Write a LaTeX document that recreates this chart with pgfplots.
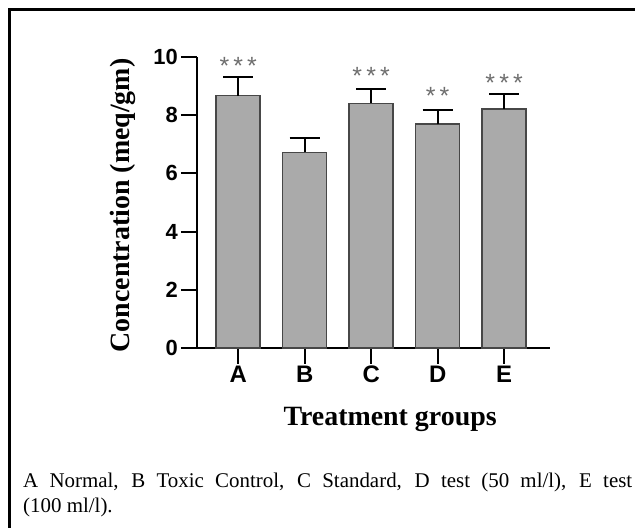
\documentclass[border=0pt]{standalone}
\usepackage{pgfplots}
\pgfplotsset{compat=1.18}
\usepackage{fontspec}
\setmainfont{Liberation Serif}
\setsansfont{Liberation Sans}
\definecolor{barfill}{HTML}{AAAAAA}
\definecolor{baredge}{HTML}{474747}
\definecolor{stargray}{HTML}{6E6E6E}
\begin{document}
\begin{tikzpicture}
\useasboundingbox (0,0) rectangle (635bp,528bp);
\draw[line width=3bp, black] (9.5bp,0) -- (9.5bp,518.5bp) -- (635bp,518.5bp);
\begin{axis}[
  at={(197bp,180bp)}, anchor=south west,
  scale only axis, width=353bp, height=291bp,
  xmin=-0.62, xmax=4.69, ymin=0, ymax=10,
  axis x line=bottom, axis y line=left,
  axis line style={line width=2.5bp, black, -},
  xtick=data, xticklabels={A,B,C,D,E},
  ytick={0,2,4,6,8,10},
  tick align=outside, major tick length=16bp,
  tick style={line width=2bp, black},
  /pgf/number format/assume math mode=true,
  yticklabel style={font=\fontsize{22}{22}\selectfont\sffamily\bfseries, inner sep=3bp},
  xticklabel style={font=\fontsize{24}{24}\selectfont\sffamily\bfseries, inner sep=2bp},
  ylabel={\textbf{Concentration (meq/gm)}},
  xlabel={\textbf{Treatment groups}},
  every axis y label/.style={at={(axis description cs:-0.21,0.49)}, rotate=90, anchor=center, font=\fontsize{28}{28}\selectfont},
  every axis x label/.style={at={(axis description cs:0.547,-0.245)}, anchor=center, font=\fontsize{28}{28}\selectfont},
  clip=false,
]
\addplot[ybar, bar width=44bp, bar shift=0pt, fill=barfill, draw=baredge, line width=1.5bp,
  error bars/.cd, y dir=plus, y explicit,
  error bar style={line width=2bp, black},
  error mark options={rotate=90, mark size=15bp, line width=2bp, black}]
  table[x=x, y=y, y error=e] {
x y e
0 8.67 0.63
1 6.72 0.48
2 8.41 0.48
3 7.69 0.48
4 8.22 0.50
};
\addplot[only marks, mark=none, nodes near coords, point meta=explicit symbolic,
  every node near coord/.append style={anchor=center, text=stargray, font=\fontsize{25}{25}\selectfont\sffamily}]
  table[x=x, y=y, meta=lab] {
x y lab
0 9.68 *\,*\,*
2 9.34 *\,*\,*
3 8.66 *\,*
4 9.10 *\,*\,*
};
\end{axis}
\node[anchor=base west, inner sep=0, font=\fontsize{21}{21}\selectfont] at (23bp,40bp) {\makebox[609bp][s]{A Normal, B Toxic Control, C Standard, D test (50 ml/l), E test}};
\node[anchor=base west, inner sep=0, font=\fontsize{21}{21}\selectfont] at (23bp,16bp) {(100 ml/l).};
\end{tikzpicture}
\end{document}
